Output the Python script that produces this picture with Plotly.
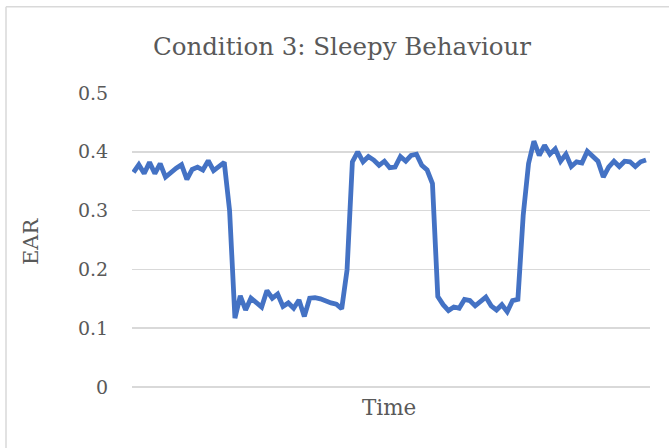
import plotly.graph_objects as go

# EAR readings per time step
high_1 = [0.365, 0.378, 0.363, 0.382, 0.363, 0.380, 0.357, 0.365, 0.372, 0.378,
          0.353, 0.370, 0.374, 0.369, 0.385, 0.368, 0.374, 0.382]
drop_1 = [0.300]
low_1 = [0.117, 0.155, 0.131, 0.151, 0.143, 0.136, 0.164, 0.151, 0.158, 0.137,
         0.143, 0.134, 0.148, 0.120, 0.151, 0.152, 0.150, 0.146, 0.143, 0.141, 0.133]
rise_1 = [0.199]
high_2 = [0.383, 0.400, 0.383, 0.392, 0.386, 0.377, 0.384, 0.373, 0.374, 0.392,
          0.384, 0.394, 0.396, 0.377, 0.369, 0.346]
low_2 = [0.154, 0.140, 0.130, 0.136, 0.134, 0.149, 0.147, 0.138, 0.145, 0.153,
         0.138, 0.131, 0.140, 0.128, 0.147, 0.149]
rise_2 = [0.292, 0.380, 0.418]
high_3 = [0.394, 0.411, 0.396, 0.405, 0.384, 0.396, 0.375, 0.383, 0.381, 0.401,
          0.392, 0.384, 0.357, 0.374, 0.384, 0.375, 0.384, 0.383, 0.375, 0.383, 0.386]

ear = high_1 + drop_1 + low_1 + rise_1 + high_2 + low_2 + rise_2 + high_3
time_idx = list(range(len(ear)))

y_ticks = [0, 0.1, 0.2, 0.3, 0.4, 0.5]
y_tick_labels = ["0", "0.1", "0.2", "0.3", "0.4", "0.5"]

title_text = "Condition 3: Sleepy Behaviour"
x_title = "Time"
y_title = "EAR"

FONT = "DejaVu Serif"
GREY = "#595959"

W, H = 669, 448
L, R, T = 132, 19, 92.5
plot_bottom = 387.5
B = H - plot_bottom
pw = W - L - R
ph = H - T - B

fig = go.Figure()
fig.add_trace(go.Scatter(
    x=time_idx, y=ear, mode="lines",
    line=dict(color="#4472C4", width=4.8),
    showlegend=False, hoverinfo="skip",
))

n = len(ear)
step = (646 - 133.5) / (n - 1)
r0 = -(133.5 - L) / step
r1 = r0 + pw / step


def px_x(sx):
    return (sx - L) / pw


def px_y(sy):
    return (plot_bottom - sy) / ph


fig.update_layout(
    width=W, height=H,
    margin=dict(l=L, r=R, t=T, b=B, pad=0),
    paper_bgcolor="white", plot_bgcolor="white",
    title=dict(text=title_text, x=342 / W, xref="container", xanchor="center",
               y=1 - 46 / H, yref="container", yanchor="middle",
               font=dict(family=FONT, size=24.5, color=GREY)),
    xaxis=dict(range=[r0, r1], showgrid=False, zeroline=False, showticklabels=False,
               showline=False, ticks=""),
    yaxis=dict(range=[0, 0.5], tickvals=y_ticks, ticktext=y_tick_labels,
               showgrid=True, gridcolor="#d9d9d9", gridwidth=1.5,
               zeroline=True, zerolinecolor="#d9d9d9", zerolinewidth=1.5,
               showline=False, ticks="outside", ticklen=19, tickcolor="rgba(0,0,0,0)",
               tickfont=dict(family=FONT, size=19, color=GREY)),
    annotations=[
        dict(text=x_title, xref="paper", yref="paper", x=px_x(389),
             y=px_y(408), xanchor="center", yanchor="middle",
             showarrow=False, font=dict(family=FONT, size=21.5, color=GREY)),
        dict(text=y_title, xref="paper", yref="paper", x=px_x(31),
             y=px_y(242), xanchor="center", yanchor="middle", textangle=-90,
             showarrow=False, font=dict(family=FONT, size=21, color=GREY)),
    ],
    shapes=[
        dict(type="line", xref="paper", yref="paper",
             x0=px_x(6), x1=px_x(6), y0=px_y(470), y1=px_y(6),
             line=dict(color="#d9d9d9", width=1.5)),
        dict(type="line", xref="paper", yref="paper",
             x0=px_x(6), x1=px_x(690), y0=px_y(6), y1=px_y(6),
             line=dict(color="#d9d9d9", width=1.5)),
    ],
)

fig.write_html(
    "out.html",
    config={"displayModeBar": False, "staticPlot": True},
    post_script="document.body.style.margin='0';document.body.style.overflow='hidden';",
)
